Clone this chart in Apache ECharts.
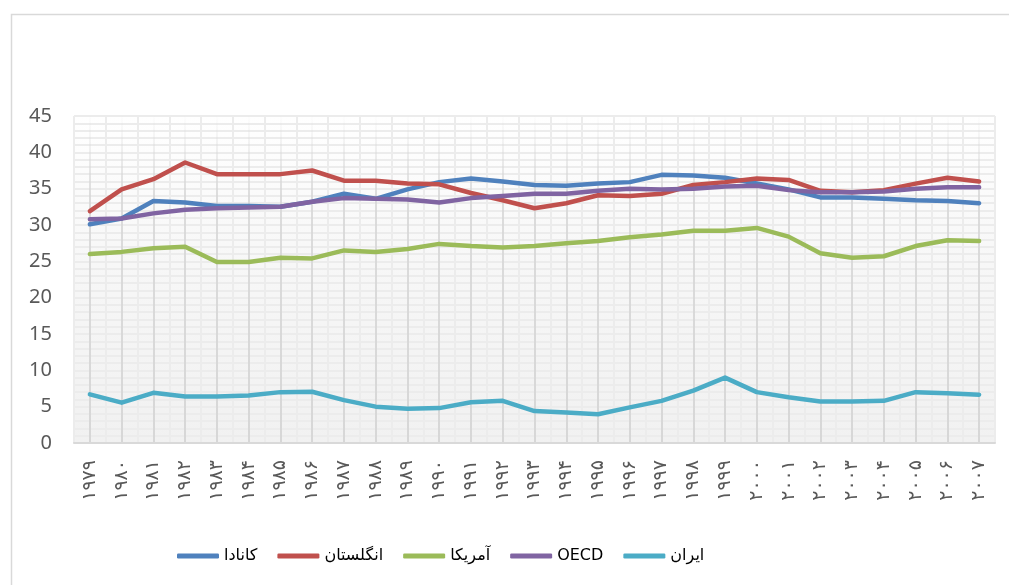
<!DOCTYPE html>
<html>
<head>
<meta charset="utf-8">
<script src="https://cdn.jsdelivr.net/npm/echarts@6/dist/echarts.min.js"></script>
<style>
html,body{margin:0;padding:0;background:#fff;}
#chart{width:1009px;height:585px;}
</style>
</head>
<body>
<div id="chart"></div>
<script>
var categories = ['۱۹۷۹','۱۹۸۰','۱۹۸۱','۱۹۸۲','۱۹۸۳','۱۹۸۴','۱۹۸۵','۱۹۸۶','۱۹۸۷','۱۹۸۸','۱۹۸۹','۱۹۹۰','۱۹۹۱','۱۹۹۲','۱۹۹۳','۱۹۹۴','۱۹۹۵','۱۹۹۶','۱۹۹۷','۱۹۹۸','۱۹۹۹','۲۰۰۰','۲۰۰۱','۲۰۰۲','۲۰۰۳','۲۰۰۴','۲۰۰۵','۲۰۰۶','۲۰۰۷'];
var seriesNames = ['کانادا','انگلستان','آمریکا','OECD','ایران'];
var canada = [30.1,30.9,33.3,33.1,32.6,32.6,32.5,33.2,34.3,33.6,34.9,35.9,36.4,36.0,35.5,35.4,35.7,35.9,36.9,36.8,36.5,35.7,34.9,33.8,33.8,33.6,33.4,33.3,33.0];
var uk = [31.9,34.9,36.3,38.6,37.0,37.0,37.0,37.5,36.1,36.1,35.7,35.6,34.4,33.4,32.3,33.0,34.1,34.0,34.3,35.5,35.9,36.4,36.2,34.7,34.5,34.8,35.7,36.5,36.0];
var usa = [26.0,26.3,26.8,27.0,24.9,24.9,25.5,25.4,26.5,26.3,26.7,27.4,27.1,26.9,27.1,27.5,27.8,28.3,28.7,29.2,29.2,29.6,28.4,26.1,25.5,25.7,27.1,27.9,27.8];
var oecd = [30.8,30.9,31.6,32.1,32.3,32.4,32.5,33.2,33.7,33.6,33.5,33.1,33.7,34.0,34.3,34.3,34.7,35.0,34.9,35.0,35.3,35.4,34.8,34.5,34.5,34.6,35.0,35.2,35.2];
var iran = [6.7,5.55,6.9,6.4,6.4,6.55,7.0,7.05,5.9,5.0,4.7,4.8,5.6,5.8,4.4,4.2,3.95,4.9,5.8,7.2,9.0,7.0,6.3,5.7,5.7,5.8,7.0,6.85,6.65];
var colors = ['#4f81bd','#c0504d','#9bbb59','#8064a2','#4bacc6'];
var values = [canada, uk, usa, oecd, iran];

var chart = echarts.init(document.getElementById('chart'), null, {renderer:'canvas'});
var majorGrad = new echarts.graphic.LinearGradient(0,0,0,1,[
  {offset:0, color:'rgba(215,215,215,0)'},
  {offset:0.25, color:'rgba(215,215,215,0.85)'},
  {offset:1, color:'rgba(215,215,215,1)'}
]);
var bgGrad = new echarts.graphic.LinearGradient(0,0,0,1,[
  {offset:0, color:'#ffffff'},
  {offset:0.45, color:'#f7f7f7'},
  {offset:1, color:'#f1f1f1'}
]);
var option = {
  animation:false,
  color: colors,
  graphic:[{
    type:'rect', left:9, top:12, silent:true, z:-10,
    shape:{width:1100, height:700},
    style:{fill:'none', stroke:'#d9d9d9', lineWidth:1.5}
  }],
  legend:{
    left:172, top:543,
    icon:'roundRect', itemWidth:42, itemHeight:5, itemGap:20,
    textStyle:{fontFamily:'DejaVu Sans', fontSize:16, color:'#000'},
    data: seriesNames
  },
  grid:{left:74, right:14, top:116, bottom:142, show:true, borderWidth:0, backgroundColor:bgGrad},
  xAxis:[{
    type:'category', data:categories, boundaryGap:true,
    axisLine:{lineStyle:{color:'#d9d9d9', width:2}},
    axisTick:{show:false},
    splitLine:{show:false},
    axisLabel:{rotate:90, interval:0, margin:17, fontFamily:'DejaVu Sans', fontSize:19, color:'#595959'}
  },{
    type:'value', min:0, max:categories.length*2, interval:1, position:'top',
    axisLine:{show:false}, axisTick:{show:false}, axisLabel:{show:false},
    splitLine:{show:true, lineStyle:{color:['#ececec', majorGrad], width:2}}
  }],
  yAxis:{
    type:'value', min:0, max:45, interval:5,
    axisLine:{show:false}, axisTick:{show:false},
    axisLabel:{margin:22, fontFamily:'Noto Sans', fontSize:20, color:'#595959'},
    splitLine:{lineStyle:{color:'#ececec', width:2}},
    minorTick:{show:false, splitNumber:5},
    minorSplitLine:{show:true, lineStyle:{color:'#ececec', width:2}}
  },
  series: seriesNames.map(function(n,i){
    return {name:n, type:'line', data:values[i], xAxisIndex:0, symbol:'none',
      lineStyle:{width:4.5, color:colors[i], cap:'round', join:'round'}, itemStyle:{color:colors[i]}};
  })
};
chart.setOption(option);
</script>
</body>
</html>
